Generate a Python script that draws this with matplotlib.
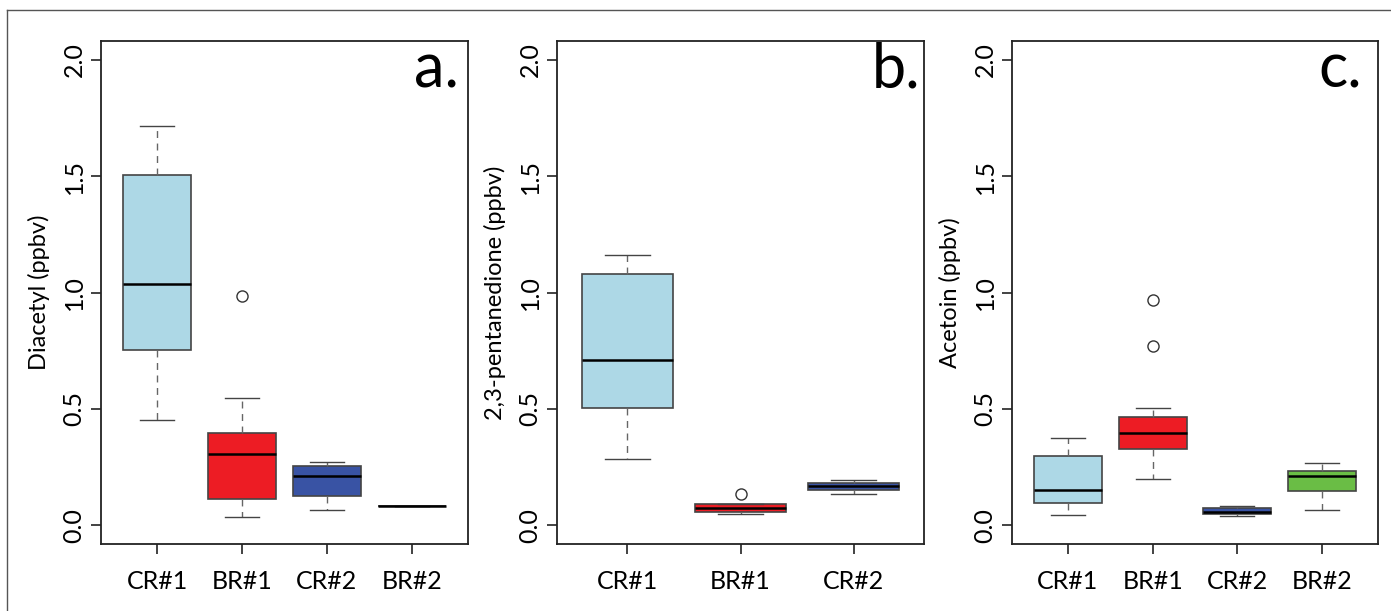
import matplotlib
matplotlib.use("Agg")
import matplotlib.pyplot as plt
from matplotlib.lines import Line2D

plt.rcParams['font.family'] = ['Lato', 'DejaVu Sans']

# ==== Values (ppbv) ====
groups_a = ["CR#1", "BR#1", "CR#2", "BR#2"]
colors_a = ["#ADD8E6", "#ED1C24", "#3953A4", "#3953A4"]
whislo_a = [0.453, 0.037, 0.067, 0.083]
q1_a = [0.752, 0.113, 0.126, 0.083]
med_a = [1.036, 0.305, 0.210, 0.083]
q3_a = [1.503, 0.398, 0.255, 0.083]
whishi_a = [1.716, 0.548, 0.270, 0.083]
fliers_a = [[], [0.985], [], []]

groups_b = ["CR#1", "BR#1", "CR#2"]
colors_b = ["#ADD8E6", "#ED1C24", "#3953A4"]
whislo_b = [0.286, 0.050, 0.136]
q1_b = [0.504, 0.057, 0.150]
med_b = [0.712, 0.076, 0.171]
q3_b = [1.078, 0.090, 0.181]
whishi_b = [1.160, 0.090, 0.193]
fliers_b = [[], [0.134], []]

groups_c = ["CR#1", "BR#1", "CR#2", "BR#2"]
colors_c = ["#ADD8E6", "#ED1C24", "#3953A4", "#6ABD45"]
whislo_c = [0.046, 0.200, 0.042, 0.067]
q1_c = [0.094, 0.327, 0.050, 0.148]
med_c = [0.150, 0.395, 0.057, 0.210]
q3_c = [0.296, 0.465, 0.074, 0.233]
whishi_c = [0.377, 0.506, 0.084, 0.266]
fliers_c = [[], [0.969, 0.770], [], []]

panels = [
    ("Diacetyl (ppbv)", "a.", groups_a, colors_a, whislo_a, q1_a, med_a, q3_a, whishi_a, fliers_a),
    ("2,3-pentanedione (ppbv)", "b.", groups_b, colors_b, whislo_b, q1_b, med_b, q3_b, whishi_b, fliers_b),
    ("Acetoin (ppbv)", "c.", groups_c, colors_c, whislo_c, q1_c, med_c, q3_c, whishi_c, fliers_c),
]

W, H = 1391, 611
fig = plt.figure(figsize=(W / 100, H / 100), dpi=100)

# pixel boxes of the three plot regions: left, right
lefts = [101, 557, 1012]
rights = [468, 924, 1378]
top, bottom = 41, 544
letter_x = [0.975, 0.990, 0.955]

for i, (ylab, letter, groups, cols, lo, q1, med, q3, hi, fl) in enumerate(panels):
    ax = fig.add_axes([lefts[i] / W, (H - bottom) / H,
                       (rights[i] - lefts[i]) / W, (bottom - top) / H])
    stats = []
    for j, g in enumerate(groups):
        stats.append(dict(label=g, whislo=lo[j], q1=q1[j], med=med[j],
                          q3=q3[j], whishi=hi[j], fliers=fl[j]))
    bp = ax.bxp(stats, widths=0.8, patch_artist=True, showfliers=True,
                boxprops=dict(edgecolor="#444444", linewidth=1.2),
                medianprops=dict(color="black", linewidth=1.8),
                whiskerprops=dict(color="#666666", linewidth=1, linestyle=(0, (5, 4))),
                capprops=dict(color="#444444", linewidth=1),
                capwidths=0.4,
                flierprops=dict(marker="o", markersize=8, markerfacecolor="none",
                                markeredgecolor="#333333", markeredgewidth=1))
    for patch, c in zip(bp["boxes"], cols):
        patch.set_facecolor(c)

    n = len(groups)
    ax.set_xlim(0.5 - 0.04 * n, n + 0.5 + 0.04 * n)
    ax.set_ylim(-0.08, 2.08)
    ax.set_yticks([0.0, 0.5, 1.0, 1.5, 2.0])
    ax.set_yticklabels(["0.0", "0.5", "1.0", "1.5", "2.0"], rotation=90, va="center")
    ax.tick_params(axis="both", direction="out", length=7, width=1.2, labelsize=18,
                   color="#222222")
    ax.tick_params(axis="y", pad=4)
    ax.tick_params(axis="x", pad=12)
    for s in ax.spines.values():
        s.set_linewidth(1.3)
        s.set_color("#222222")
    ax.set_ylabel(ylab, fontsize=17)
    ax.yaxis.set_label_coords(-51 / (rights[i] - lefts[i]), 0.5)
    ax.text(letter_x[i], 0.9085, letter, transform=ax.transAxes, ha="right",
            va="baseline", fontsize=44)

# thin frame lines at top and left of the figure
fig.add_artist(Line2D([7 / W, 1], [1 - 10 / H, 1 - 10 / H], color="#555555", lw=1))
fig.add_artist(Line2D([7 / W, 7 / W], [0, 1 - 10 / H], color="#555555", lw=1))

fig.savefig("out.png", dpi=100)
